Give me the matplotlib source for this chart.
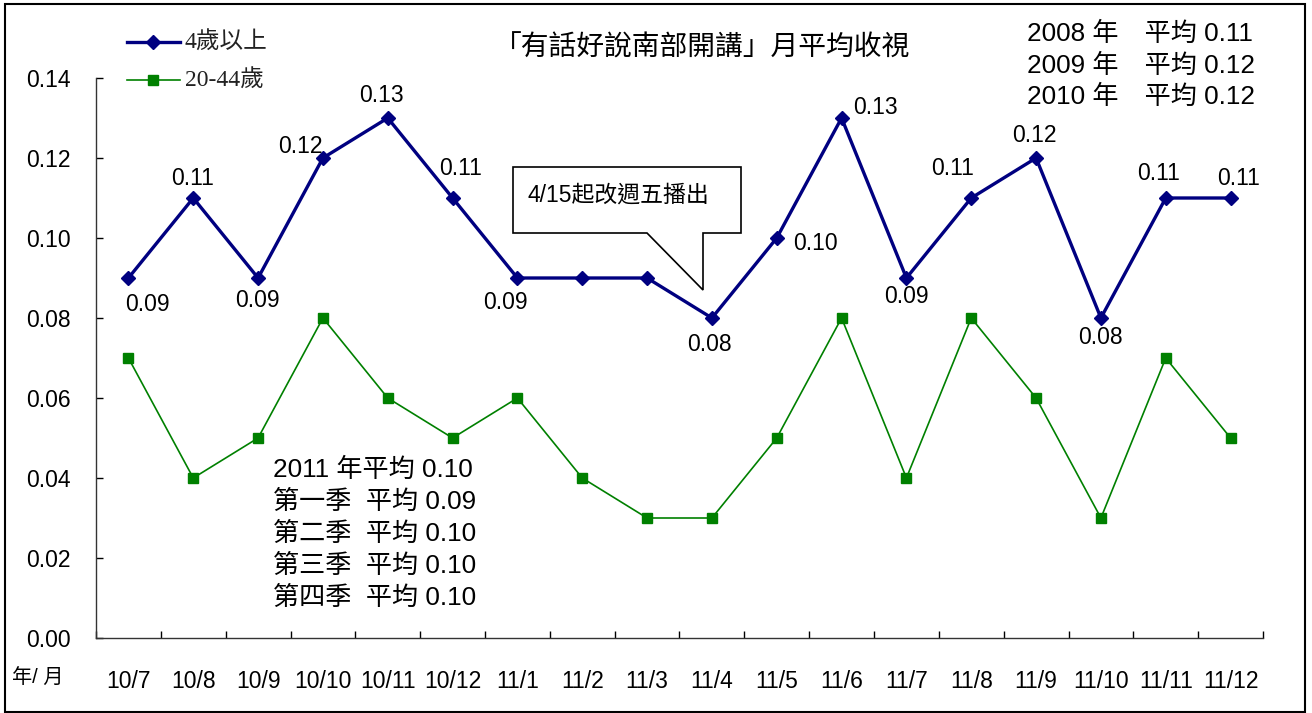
import matplotlib
matplotlib.use('Agg')
import matplotlib.pyplot as plt
from matplotlib.patches import Polygon, Rectangle
from matplotlib.lines import Line2D

plt.rcParams['font.family'] = ['Liberation Sans', 'Noto Sans CJK TC']

# 資料
months = ['10/7', '10/8', '10/9', '10/10', '10/11', '10/12', '11/1', '11/2', '11/3',
          '11/4', '11/5', '11/6', '11/7', '11/8', '11/9', '11/10', '11/11', '11/12']
age4_up = [0.09, 0.11, 0.09, 0.12, 0.13, 0.11, 0.09, 0.09, 0.09,
           0.08, 0.10, 0.13, 0.09, 0.11, 0.12, 0.08, 0.11, 0.11]
age20_44 = [0.07, 0.04, 0.05, 0.08, 0.06, 0.05, 0.06, 0.04, 0.03,
            0.03, 0.05, 0.08, 0.04, 0.08, 0.06, 0.03, 0.07, 0.05]
series_names = ['4歲以上', '20-44歲']
title = '「有話好說南部開講」月平均收視'
year_avgs = ['2008 年\u3000平均 0.11', '2009 年\u3000平均 0.12', '2010 年\u3000平均 0.12']
season_avgs = ['2011 年平均 0.10', '第一季  平均 0.09', '第二季  平均 0.10',
               '第三季  平均 0.10', '第四季  平均 0.10']
note = '4/15起改週五播出'

W, H = 1312, 713
fig = plt.figure(figsize=(W / 100, H / 100), dpi=100)


def fx(x):
    return x / W


def fy(y):
    return 1 - y / H


# 外框
fig.patches.append(Rectangle((fx(5), fy(712)), fx(1305) - fx(5), fy(4) - fy(712),
                             transform=fig.transFigure, fill=False,
                             edgecolor='black', linewidth=1.5))

ax = fig.add_axes([fx(96), fy(638), fx(1263) - fx(96), fy(78) - fy(638)])
x = list(range(len(months)))

ax.plot(x, age4_up, color='#000080', linewidth=2.4, marker='D', markersize=7,
        label=series_names[0], zorder=3)
ax.plot(x, age20_44, color='#008000', linewidth=1.2, marker='s', markersize=7,
        label=series_names[1], zorder=3)

# 資料標籤位移 (像素)
offsets = [(19, -26), (-1, 20), (-1, -22), (-23, 12), (-6, 23), (8, 30), (-12, -24),
           None, None, (-2, -26), (39, -6), (34, 10), (0, -18), (-19, 30),
           (-2, 23), (0, -19), (-7, 25), (8, 20)]
for i, v in enumerate(age4_up):
    if offsets[i] is None:
        continue
    ax.annotate('%.2f' % v, (i, v), xytext=offsets[i], textcoords='offset pixels',
                ha='center', va='center', fontsize=16.5)

ax.set_xlim(-0.5, len(months) - 0.5)
ax.set_ylim(0, 0.14)
ax.set_yticks([0.00, 0.02, 0.04, 0.06, 0.08, 0.10, 0.12, 0.14])
ax.set_yticklabels(['%.2f' % t for t in ax.get_yticks()], fontsize=16.5)
ax.set_xticks(x)
ax.set_xticklabels(months, fontsize=16.5)
ax.set_xticks([i - 0.5 for i in range(len(months) + 1)], minor=True)
ax.tick_params(axis='x', which='major', length=0, pad=23)
ax.tick_params(axis='x', which='minor', direction='in', length=5, width=1)
ax.tick_params(axis='y', direction='in', length=5, width=1, pad=18)
for s in ['top', 'right']:
    ax.spines[s].set_visible(False)
for s in ['left', 'bottom']:
    ax.spines[s].set_color('#333333')
    ax.spines[s].set_linewidth(1)

# 圖例
leg_font = ['Liberation Serif', 'Noto Sans CJK TC']
for k, (c, lw, m, y) in enumerate([('#000080', 2.4, 'D', 42), ('#008000', 1.2, 's', 80)]):
    fig.lines.append(Line2D([fx(127), fx(180)], [fy(y), fy(y)], transform=fig.transFigure,
                            color=c, linewidth=lw))
    fig.lines.append(Line2D([fx(153)], [fy(y)], transform=fig.transFigure, color=c,
                            marker=m, markersize=7, linestyle='none'))
    fig.text(fx(185), fy(y), series_names[k], family=leg_font, fontsize=17,
             ha='left', va='center', color='#222222')

fig.text(fx(702), fy(48), title, fontsize=20, ha='center', va='center')

for k, t in enumerate(year_avgs):
    fig.text(fx(1027), fy(34 + 31.5 * k), t, fontsize=18.8, ha='left', va='center')

for k, t in enumerate(season_avgs):
    fig.text(fx(273), fy(470 + 32 * k), t, fontsize=18.8, ha='left', va='center')

fig.text(fx(12), fy(678), '年/ 月', fontsize=14.5, ha='left', va='center')

# 對話框
pts = [(513, 167), (741, 167), (741, 233), (703, 233), (703, 290), (647, 233), (513, 233)]
fig.patches.append(Polygon([(fx(a), fy(b)) for a, b in pts], closed=True,
                           transform=fig.transFigure, facecolor='white',
                           edgecolor='black', linewidth=1.2, zorder=5))
fig.text(fx(528), fy(195), note, fontsize=16.5, ha='left', va='center', zorder=6)

fig.savefig('out.png', dpi=100)
